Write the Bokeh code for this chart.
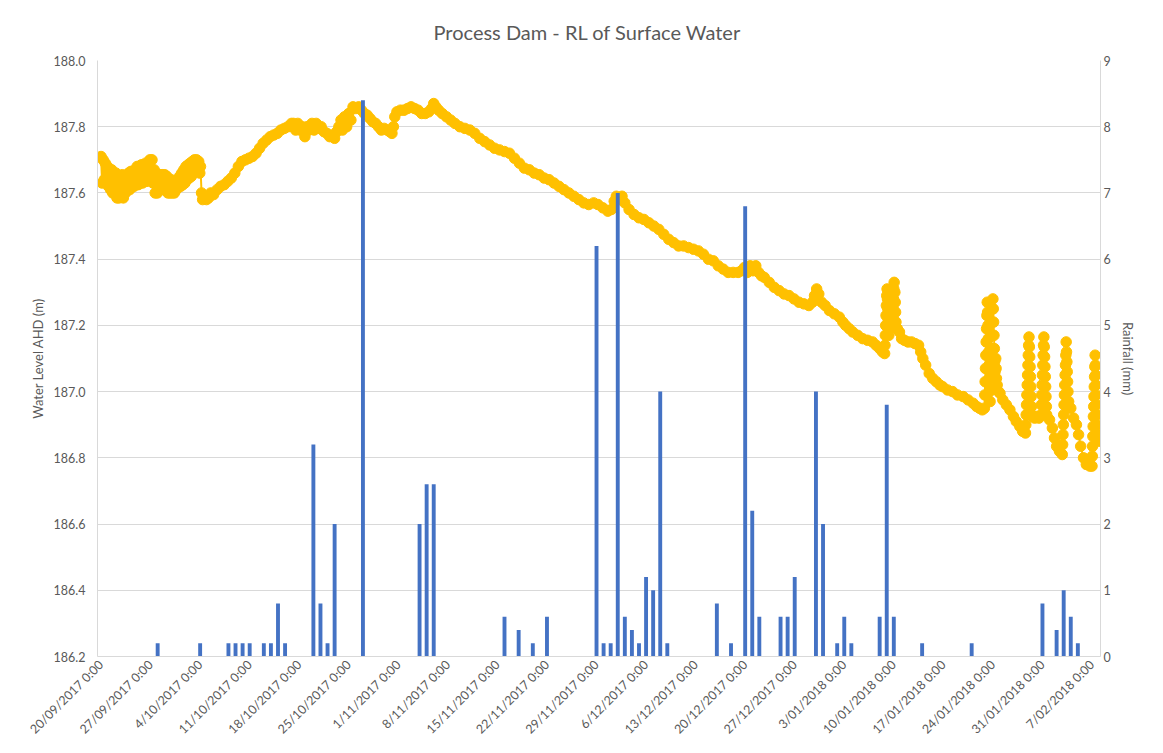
import pandas as pd
from bokeh.plotting import figure
from bokeh.models import Range1d, LinearAxis, FixedTicker, ColumnDataSource, PrintfTickFormatter
from bokeh.embed import file_html
from bokeh.resources import INLINE

# ---------------- data ----------------
START = "2017-09-20 00:00"

rain_dates = ["2017-09-28", "2017-10-04", "2017-10-08", "2017-10-09", "2017-10-10", "2017-10-11",
              "2017-10-13", "2017-10-14", "2017-10-15", "2017-10-16", "2017-10-20", "2017-10-21",
              "2017-10-22", "2017-10-23", "2017-10-27", "2017-11-04", "2017-11-05", "2017-11-06",
              "2017-11-16", "2017-11-18", "2017-11-20", "2017-11-22", "2017-11-29", "2017-11-30",
              "2017-12-01", "2017-12-02", "2017-12-03", "2017-12-04", "2017-12-05", "2017-12-06",
              "2017-12-07", "2017-12-08", "2017-12-09", "2017-12-16", "2017-12-18", "2017-12-20",
              "2017-12-21", "2017-12-22", "2017-12-25", "2017-12-26", "2017-12-27", "2017-12-30",
              "2017-12-31", "2018-01-02", "2018-01-03", "2018-01-04", "2018-01-08", "2018-01-09",
              "2018-01-10", "2018-01-14", "2018-01-21", "2018-01-31", "2018-02-02", "2018-02-03",
              "2018-02-04", "2018-02-05"]
rain_mm = [0.2, 0.2, 0.2, 0.2, 0.2, 0.2,
           0.2, 0.2, 0.8, 0.2, 3.2, 0.8,
           0.2, 2.0, 8.4, 2.0, 2.6, 2.6,
           0.6, 0.4, 0.2, 0.6, 6.2, 0.2,
           0.2, 7.0, 0.6, 0.4, 0.2, 1.2,
           1.0, 4.0, 0.2, 0.8, 0.2, 6.8,
           2.2, 0.6, 0.6, 0.6, 1.2, 4.0,
           2.0, 0.2, 0.6, 0.2, 0.6, 3.8,
           0.6, 0.2, 0.2, 0.8, 0.4, 1.0,
           0.6, 0.2]

# water level readings: elapsed days since START, and RL (m AHD)
level_day = [
    0.0, 0.15, 0.3, 0.45, 0.6, 0.75, 0.9, 1.05, 1.2, 1.35,
    1.5, 1.65, 1.8, 1.95, 2.1, 2.25, 2.4, 2.55, 2.7, 2.85,
    3.0, 3.15, 3.3, 3.45, 3.6, 3.75, 3.9, 4.05, 4.2, 4.35,
    4.5, 4.65, 4.8, 4.95, 5.1, 5.25, 5.4, 5.55, 5.7, 5.85,
    6.0, 6.15, 6.3, 6.45, 6.6, 6.75, 6.9, 7.05, 7.2, 7.35,
    7.5, 7.65, 7.8, 7.95, 8.1, 8.25, 8.4, 8.55, 8.7, 8.85,
    9.0, 9.15, 9.3, 9.45, 9.6, 9.75, 9.9, 10.05, 10.2, 10.35,
    10.5, 10.65, 10.8, 10.95, 11.1, 11.25, 11.4, 11.55, 11.7, 11.85,
    12.0, 12.15, 12.3, 12.45, 12.6, 12.75, 12.9, 13.05, 13.2, 13.35,
    13.5, 13.65, 13.8, 13.95, 14.05, 14.2, 14.35, 14.6, 14.9, 15.2,
    15.5, 15.9, 16.4, 16.9, 17.4, 17.9, 18.4, 18.9, 19.4, 19.9,
    20.4, 20.9, 21.4, 21.9, 22.4, 22.9, 23.4, 23.9, 24.4, 24.9,
    25.4, 25.9, 26.4, 26.9, 27.2, 27.5, 27.8, 28.1, 28.4, 28.8,
    29.1, 29.4, 29.8, 30.1, 30.4, 30.8, 31.1, 31.5, 31.9, 32.3,
    32.7, 33.0, 33.3, 33.6, 33.9, 34.1, 34.4, 34.7, 35.0, 35.3,
    35.6, 36.0, 36.4, 36.8, 37.2, 37.6, 38.0, 38.4, 38.8, 39.2,
    39.6, 40.0, 40.4, 40.8, 41.1, 41.3, 41.5, 41.8, 42.3, 42.8,
    43.3, 43.8, 44.3, 44.8, 45.3, 45.8, 46.3, 46.7, 47.0, 47.3,
    47.7, 48.2, 48.8, 49.4, 50.0, 50.7, 51.4, 52.1, 52.8, 53.5,
    54.2, 54.9, 55.6, 56.3, 57.0, 57.7, 58.4, 59.1, 59.8, 60.5,
    61.2, 61.9, 62.6, 63.3, 64.0, 64.7, 65.4, 66.1, 66.8, 67.5,
    68.2, 68.9, 69.6, 70.2, 70.9, 71.6, 72.1, 72.5, 72.8, 73.2,
    73.6, 74.0, 74.6, 75.3, 76.0, 76.7, 77.4, 78.1, 78.8, 79.5,
    80.2, 80.9, 81.6, 82.3, 83.0, 83.7, 84.4, 85.1, 85.8, 86.5,
    87.2, 87.9, 88.6, 89.3, 90.0, 90.5, 90.9, 91.3, 91.7, 92.1,
    92.5, 92.9, 93.3, 93.7, 94.4, 95.1, 95.8, 96.5, 97.2, 97.9,
    98.6, 99.3, 100.0, 100.5, 100.8, 101.1, 101.4, 101.8, 102.3, 102.9,
    103.6, 104.3, 104.8, 105.2, 105.7, 106.2, 106.9, 107.6, 108.3, 109.0,
    109.5, 110.0, 110.4, 110.7, 110.75, 110.8, 110.85, 110.9, 110.95, 111.0,
    111.05, 111.1, 111.15, 111.2, 111.25, 111.3, 111.4, 111.45, 111.5, 111.55,
    111.6, 111.7, 111.75, 111.8, 111.9, 111.95, 112.0, 112.05, 112.15, 112.2,
    112.25, 112.3, 112.4, 112.5, 112.8, 113.1, 113.5, 114.0, 114.5, 115.0,
    115.5, 115.8, 116.1, 116.5, 117.0, 117.5, 118.0, 118.5, 118.9, 119.6,
    120.3, 121.0, 121.8, 122.5, 123.2, 123.7, 124.1, 124.5, 124.8, 124.85,
    124.9, 124.95, 125.0, 125.05, 125.1, 125.15, 125.2, 125.25, 125.3, 125.35,
    125.4, 125.45, 125.5, 125.55, 125.6, 125.65, 125.7, 125.75, 125.8, 125.85,
    125.9, 125.95, 126.0, 126.05, 126.1, 126.15, 126.2, 126.25, 126.3, 126.4,
    126.45, 126.5, 126.6, 126.8, 127.0, 127.4, 127.9, 128.4, 128.9, 129.3,
    129.8, 130.2, 130.6, 130.65, 130.7, 130.75, 130.8, 130.85, 130.9, 130.95,
    131.0, 131.05, 131.1, 131.15, 131.2, 131.25, 131.3, 131.35, 131.4, 131.45,
    131.5, 131.6, 131.9, 132.2, 132.5, 132.8, 132.85, 132.9, 132.95, 133.0,
    133.05, 133.1, 133.15, 133.2, 133.25, 133.3, 133.35, 133.4, 133.45, 133.5,
    133.55, 133.6, 134.0, 134.4, 134.7, 135.0, 135.4, 135.8, 135.85, 135.9,
    135.95, 136.0, 136.05, 136.1, 136.15, 136.2, 136.25, 136.3, 136.35, 136.4,
    136.45, 136.5, 136.55, 136.6, 136.7, 137.0, 137.4, 137.8, 138.1, 138.4,
    138.8, 139.2, 139.7, 140.0, 140.04, 140.08, 140.12, 140.16, 140.2, 140.24,
    140.28, 140.32, 140.36, 140.4, 140.44, 140.48, 140.52, 140.56, 140.6, 140.64,
    140.68, 140.72, 140.8, 140.95, 141.1]
level_m = [
    187.71, 187.63, 187.70, 187.64, 187.69, 187.63, 187.68, 187.62, 187.67, 187.61,
    187.67, 187.60, 187.66, 187.60, 187.66, 187.585, 187.65, 187.585, 187.64, 187.59,
    187.655, 187.585, 187.65, 187.60, 187.65, 187.61, 187.66, 187.61, 187.665, 187.62,
    187.665, 187.62, 187.67, 187.625, 187.68, 187.625, 187.68, 187.63, 187.685, 187.63,
    187.685, 187.635, 187.69, 187.635, 187.69, 187.64, 187.70, 187.64, 187.70, 187.63,
    187.67, 187.60, 187.66, 187.60, 187.655, 187.61, 187.655, 187.61, 187.655, 187.62,
    187.655, 187.62, 187.65, 187.60, 187.64, 187.60, 187.64, 187.60, 187.635, 187.60,
    187.635, 187.61, 187.64, 187.62, 187.65, 187.62, 187.66, 187.625, 187.67, 187.63,
    187.68, 187.64, 187.685, 187.645, 187.69, 187.65, 187.695, 187.66, 187.70, 187.67,
    187.70, 187.665, 187.695, 187.66, 187.68, 187.60, 187.58, 187.585, 187.58, 187.585,
    187.60, 187.595, 187.61, 187.62, 187.625, 187.635, 187.645, 187.66, 187.68, 187.695,
    187.70, 187.705, 187.71, 187.72, 187.735, 187.75, 187.76, 187.77, 187.775, 187.78,
    187.79, 187.795, 187.80, 187.81, 187.81, 187.79, 187.81, 187.79, 187.80, 187.77,
    187.80, 187.79, 187.81, 187.79, 187.81, 187.795, 187.80, 187.785, 187.78, 187.77,
    187.775, 187.765, 187.785, 187.80, 187.82, 187.79, 187.83, 187.80, 187.84, 187.82,
    187.86, 187.855, 187.86, 187.85, 187.84, 187.835, 187.825, 187.815, 187.81, 187.80,
    187.79, 187.795, 187.79, 187.785, 187.78, 187.80, 187.83, 187.845, 187.85, 187.85,
    187.855, 187.86, 187.855, 187.85, 187.84, 187.84, 187.845, 187.855, 187.87, 187.86,
    187.85, 187.84, 187.83, 187.82, 187.81, 187.80, 187.795, 187.79, 187.78, 187.765,
    187.755, 187.745, 187.735, 187.73, 187.725, 187.72, 187.705, 187.69, 187.675, 187.67,
    187.66, 187.655, 187.645, 187.64, 187.63, 187.62, 187.61, 187.60, 187.59, 187.58,
    187.57, 187.565, 187.57, 187.565, 187.555, 187.545, 187.55, 187.575, 187.59, 187.58,
    187.59, 187.57, 187.55, 187.535, 187.525, 187.52, 187.51, 187.50, 187.49, 187.475,
    187.46, 187.45, 187.44, 187.44, 187.435, 187.43, 187.425, 187.415, 187.40, 187.395,
    187.38, 187.37, 187.36, 187.36, 187.36, 187.365, 187.375, 187.36, 187.38, 187.365,
    187.38, 187.36, 187.35, 187.345, 187.33, 187.315, 187.305, 187.295, 187.29, 187.28,
    187.27, 187.265, 187.26, 187.27, 187.29, 187.31, 187.295, 187.27, 187.26, 187.245,
    187.235, 187.225, 187.21, 187.20, 187.19, 187.18, 187.17, 187.16, 187.155, 187.15,
    187.14, 187.13, 187.12, 187.115, 187.14, 187.17, 187.20, 187.23, 187.26, 187.29,
    187.31, 187.28, 187.25, 187.22, 187.19, 187.17, 187.20, 187.23, 187.26, 187.29,
    187.31, 187.28, 187.25, 187.22, 187.25, 187.28, 187.31, 187.33, 187.30, 187.27,
    187.24, 187.21, 187.19, 187.19, 187.18, 187.16, 187.155, 187.15, 187.15, 187.145,
    187.14, 187.12, 187.10, 187.08, 187.055, 187.04, 187.03, 187.02, 187.015, 187.005,
    187.00, 186.99, 186.985, 186.975, 186.965, 186.955, 186.95, 186.945, 186.95, 186.99,
    187.03, 187.07, 187.11, 187.15, 187.19, 187.23, 187.27, 187.24, 187.20, 187.16,
    187.12, 187.08, 187.04, 187.00, 186.97, 187.01, 187.05, 187.09, 187.13, 187.17,
    187.21, 187.25, 187.28, 187.25, 187.21, 187.17, 187.13, 187.09, 187.06, 187.10,
    187.07, 187.04, 187.02, 187.00, 186.995, 186.975, 186.96, 186.945, 186.925, 186.91,
    186.895, 186.88, 186.875, 186.90, 186.93, 186.96, 186.99, 187.02, 187.05, 187.08,
    187.11, 187.14, 187.165, 187.135, 187.105, 187.075, 187.045, 187.015, 186.985, 186.955,
    186.93, 186.925, 186.92, 186.925, 186.92, 186.93, 186.96, 186.99, 187.02, 187.05,
    187.08, 187.11, 187.14, 187.165, 187.135, 187.105, 187.075, 187.045, 187.015, 186.985,
    186.955, 186.93, 186.915, 186.89, 186.86, 186.835, 186.82, 186.81, 186.84, 186.87,
    186.90, 186.93, 186.96, 186.99, 187.02, 187.05, 187.08, 187.11, 187.15, 187.12,
    187.09, 187.06, 187.03, 187.00, 186.97, 186.95, 186.92, 186.90, 186.87, 186.835,
    186.80, 186.78, 186.775, 186.775, 186.805, 186.835, 186.865, 186.895, 186.925, 186.955,
    186.985, 187.015, 187.045, 187.075, 187.11, 187.08, 187.05, 187.02, 186.99, 186.96,
    186.93, 186.90, 186.87, 186.855, 186.85]

tick_dates = ["2017-09-20", "2017-09-27", "2017-10-04", "2017-10-11", "2017-10-18", "2017-10-25",
              "2017-11-01", "2017-11-08", "2017-11-15", "2017-11-22", "2017-11-29", "2017-12-06",
              "2017-12-13", "2017-12-20", "2017-12-27", "2018-01-03", "2018-01-10", "2018-01-17",
              "2018-01-24", "2018-01-31", "2018-02-07"]
tick_labels = ["20/09/2017 0:00", "27/09/2017 0:00", "4/10/2017 0:00", "11/10/2017 0:00",
               "18/10/2017 0:00", "25/10/2017 0:00", "1/11/2017 0:00", "8/11/2017 0:00",
               "15/11/2017 0:00", "22/11/2017 0:00", "29/11/2017 0:00", "6/12/2017 0:00",
               "13/12/2017 0:00", "20/12/2017 0:00", "27/12/2017 0:00", "3/01/2018 0:00",
               "10/01/2018 0:00", "17/01/2018 0:00", "24/01/2018 0:00", "31/01/2018 0:00",
               "7/02/2018 0:00"]
level_ticks = [186.2, 186.4, 186.6, 186.8, 187.0, 187.2, 187.4, 187.6, 187.8, 188.0]
rain_ticks = [0, 1, 2, 3, 4, 5, 6, 7, 8, 9]

# ---------------- figure ----------------
FONT = "Lato"
TXT = "#595959"
GRID = "#D9D9D9"


def ms(ts):
    return pd.Timestamp(ts).value // 10**6


x_start = pd.Timestamp("2017-09-19 12:00")
x_end = pd.Timestamp(START) + pd.Timedelta(days=141.2)

n = min(len(level_day), len(level_m))
lvl_t = pd.Timestamp(START) + pd.to_timedelta(level_day[:n], unit="D")
lvl_src = ColumnDataSource(dict(t=lvl_t, lvl=level_m[:n]))
rain_src = ColumnDataSource(dict(t=pd.to_datetime(rain_dates), mm=rain_mm))

p = figure(width=1155, height=745, x_axis_type="datetime",
           x_range=Range1d(x_start, x_end), y_range=Range1d(186.2, 188.0),
           output_backend="svg", toolbar_location=None,
           min_border_left=97, min_border_right=55, min_border_top=60, min_border_bottom=89)

p.extra_y_ranges = {"rain": Range1d(0, 9)}

p.title.text = "Process Dam - RL of Surface Water"
p.title.align = "left"
p.title.offset = 336
p.title.standoff = 33
p.title.text_font = FONT
p.title.text_font_size = "20px"
p.title.text_font_style = "normal"
p.title.text_color = TXT

p.outline_line_color = None
p.background_fill_color = "white"
p.border_fill_color = "white"

# grid
p.xgrid.visible = False
p.ygrid.ticker = FixedTicker(ticks=level_ticks)
p.ygrid.grid_line_color = GRID
p.ygrid.grid_line_width = 1

# water level
p.line(x="t", y="lvl", source=lvl_src, line_color="#FFC000", line_width=2)
p.scatter(x="t", y="lvl", source=lvl_src, size=10.5, fill_color="#FFC000", line_color="#FFC000",
          line_width=1)

# rainfall
p.vbar(x="t", top="mm", bottom=0, width=0.55 * 86400000, source=rain_src,
       fill_color="#4472C4", line_color=None, y_range_name="rain")

# x axis
xa = p.xaxis[0]
xa.ticker = FixedTicker(ticks=[ms(d) for d in tick_dates])
xa.major_label_overrides = {ms(d): lab for d, lab in zip(tick_dates, tick_labels)}
xa.major_label_orientation = 0.785398
xa.major_label_standoff = 6

# left axis
ya = p.yaxis[0]
ya.ticker = FixedTicker(ticks=level_ticks)
ya.formatter = PrintfTickFormatter(format="%.1f")
ya.axis_label = "Water Level AHD (m)"
ya.major_label_standoff = 12
ya.axis_label_standoff = 5

# right axis
ra = LinearAxis(y_range_name="rain", ticker=FixedTicker(ticks=rain_ticks),
                axis_label="Rainfall (mm)")
p.add_layout(ra, "right")
ra.major_label_standoff = 3
ra.axis_label_standoff = 6

for ax in [xa, ya, ra]:
    ax.axis_line_color = GRID
    ax.major_tick_line_color = None
    ax.minor_tick_line_color = None
    ax.major_tick_out = 0
    ax.major_tick_in = 0
    ax.major_label_text_font = FONT
    ax.major_label_text_font_size = "12.5px"
    ax.major_label_text_color = TXT
    ax.axis_label_text_font = FONT
    ax.axis_label_text_font_size = "13px"
    ax.axis_label_text_font_style = "normal"
    ax.axis_label_text_color = TXT

open("out.html", "w").write(file_html(p, INLINE))
